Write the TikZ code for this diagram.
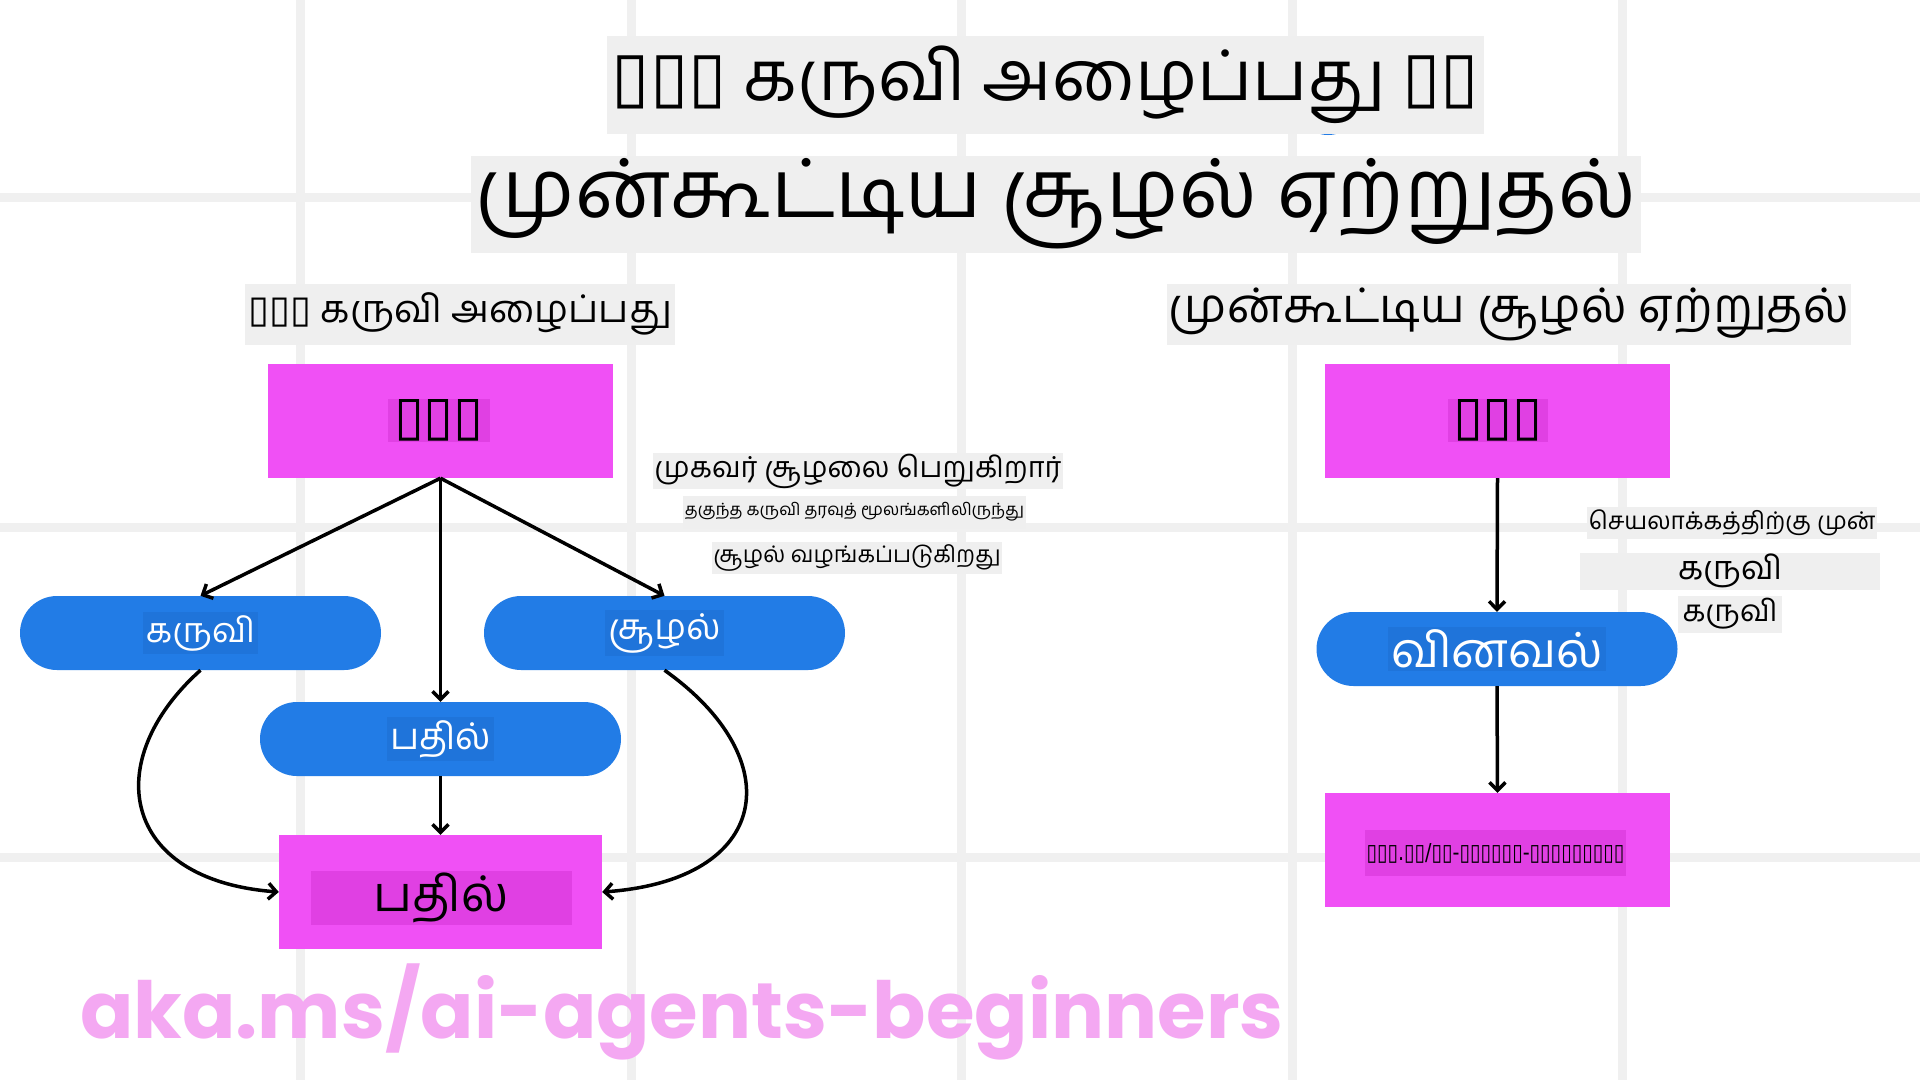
\documentclass[tikz,border=0pt]{standalone}
\usepackage{fontspec}
\usepackage{graphicx}
\usetikzlibrary{arrows.meta}
\newfontfamily\tamil[Script=Tamil]{Hind Madurai}
\newfontfamily\dv{DejaVu Sans}
\newfontfamily\wmfont{Poppins}
\definecolor{gridc}{HTML}{F0F0F0}
\definecolor{graybg}{HTML}{EFEFEF}
\definecolor{mag}{HTML}{F050F5}
\definecolor{magdark}{HTML}{E040E3}
\definecolor{pillblue}{HTML}{227CE6}
\definecolor{pilldark}{HTML}{1F74DA}
\definecolor{wmpink}{HTML}{F4A8F2}
\newcommand\fitw[2]{\resizebox{#1}{!}{#2}}
\newcommand\fitwh[3]{\resizebox{#1}{#2}{#3}}
\tikzset{
  gridln/.style={line width=9pt, draw=gridc},
  graybox/.style={fill=graybg, inner sep=0pt},
  magbox/.style={fill=mag, minimum width=345pt, minimum height=114pt, inner sep=0pt},
  maglbl/.style={fill=magdark, inner sep=0pt, text=black},
  pill/.style={fill=pillblue, rounded corners=37pt, minimum width=361pt, minimum height=74pt, inner sep=0pt},
  pilllbl/.style={fill=pilldark, inner sep=3pt, text=white},
  arr/.style={line width=3.5pt, -{Straight Barb[length=8pt,width=16pt,line width=3.5pt]}},
}
\begin{document}
\begin{tikzpicture}[x=1pt,y=-1pt, font=\tamil]
\useasboundingbox (0,0) rectangle (1920,1080);
\fill[white] (0,0) rectangle (1920,1080);
\foreach \x in {300,631,961,1292,1622} \draw[gridln] (\x,0) -- (\x,1080);
\foreach \y in {197,527,857} \draw[gridln] (0,\y) -- (1920,\y);

% small blue artifacts
\fill[pillblue] (1328,131) ellipse (12pt and 4pt);
\fill[pillblue] (803,250) rectangle (813,253);

% titles
\node[graybox, minimum width=877pt, minimum height=98pt] (t1) at (1045.5,85)
  {\fitw{867pt}{{\dv ▯▯▯} கருவி அழைப்பது {\dv ▯▯}}};
\node[graybox, minimum width=1170pt, minimum height=97pt] (t2) at (1056,204)
  {\fitw{1160pt}{முன்கூட்டிய சூழல் ஏற்றுதல்}};
\node[graybox, minimum width=430pt, minimum height=61pt] (s1) at (460,314)
  {\fitw{423pt}{{\dv ▯▯▯} கருவி அழைப்பது}};
\node[graybox, minimum width=684pt, minimum height=61pt] (s2) at (1509,314)
  {\fitw{680pt}{முன்கூட்டிய சூழல் ஏற்றுதல்}};

% left column
\node[magbox] (lt) at (440.5,421) {};
\node[maglbl, minimum width=102pt, minimum height=43pt] (ltl) at (439,420) {\fitwh{90pt}{35pt}{\dv ▯▯▯}};
\node[pill] (tool) at (200.5,633) {};
\node[pilllbl] (tooll) at (tool) {\fitw{109pt}{கருவி}};
\node[pill] (ctx) at (664.5,633) {};
\node[pilllbl] (ctxl) at (ctx) {\fitw{112pt}{சூழல்}};
\node[pill] (ans) at (440.5,739) {};
\node[pilllbl] (ansl) at (ans) {\fitw{101pt}{பதில்}};
\node[magbox, minimum width=323pt] (resp) at (440.5,892) {};
\node[maglbl, minimum width=261pt, minimum height=54pt] (respl) at (441,898) {\fitw{135pt}{பதில்}};

\draw[arr] (lt.south) -- (tool.north);
\draw[arr] (lt.south) -- (ans.north);
\draw[arr] (lt.south) -- (ctx.north);
\draw[arr] (ans.south) -- (resp.north);
\draw[arr] (tool.south) .. controls (100,760) and (120,880) .. (resp.west);
\draw[arr] (ctx.south) .. controls (791,760) and (771,880) .. (resp.east);

% left annotations
\node[graybox, minimum width=410pt, minimum height=36pt] (a1) at (858,471) {\fitw{407pt}{முகவர் சூழலை பெறுகிறார்}};
\node[graybox, minimum width=343pt, minimum height=33pt] (a2) at (854.5,512) {\fitw{339pt}{தகுந்த கருவி தரவுத் மூலங்களிலிருந்து}};
\node[graybox, minimum width=290pt, minimum height=32pt] (a3) at (857,558) {\fitw{287pt}{சூழல் வழங்கப்படுகிறது}};

% right column
\node[magbox] (rt) at (1497.5,421) {};
\node[maglbl, minimum width=100pt, minimum height=43pt] (rtl) at (1498,420) {\fitwh{90pt}{35pt}{\dv ▯▯▯}};
\node[pill] (query) at (1497,649) {};
\node[pilllbl] (queryl) at (query) {\fitw{212pt}{வினவல்}};
\node[magbox] (rb) at (1497.5,850) {};
\node[maglbl, minimum width=261pt, minimum height=46pt] (rbl) at (1495.5,853) {\fitwh{258pt}{17pt}{\dv ▯▯▯.▯▯/▯▯-▯▯▯▯▯▯-▯▯▯▯▯▯▯▯▯}};

\draw[arr] (rt.south) -- (query.north);
\draw[arr] (query.south) -- (rb.north);

% right annotations
\node[graybox, minimum width=290pt, minimum height=32pt] (b1) at (1732,523) {\fitw{287pt}{செயலாக்கத்திற்கு முன்}};
\node[graybox, minimum width=300pt, minimum height=37pt] (b2) at (1730,571) {\fitw{104pt}{கருவி}};
\node[graybox, minimum width=104pt, minimum height=37pt] (b3) at (1730,614) {\fitw{95pt}{கருவி}};

% watermark
\node[anchor=base west, inner sep=0pt, text=wmpink, font=\wmfont\bfseries] (wm) at (80,1038) {\fitw{1203pt}{aka.ms/ai-agents-beginners}};
\end{tikzpicture}
\end{document}
